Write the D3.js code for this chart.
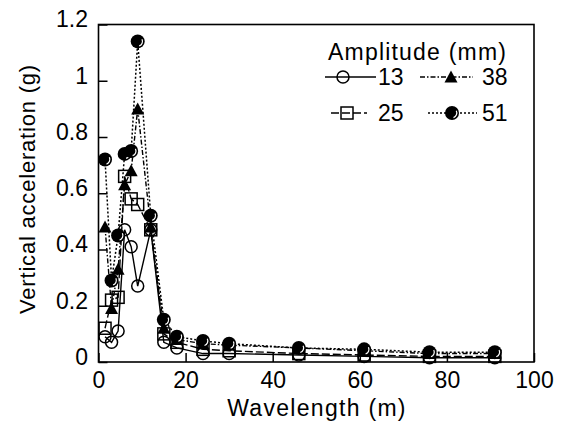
<!DOCTYPE html>
<html>
<head>
<meta charset="utf-8">
<script src="https://cdn.jsdelivr.net/npm/d3@7"></script>
<style>
body { margin: 0; background: #fff; }
text { font-family: "Liberation Sans", Arial, sans-serif; fill: #000; }
</style>
</head>
<body>
<script>
// wavelengths (m) and peak vertical acceleration (g) per amplitude
var wavelength = [1.5, 3, 4.5, 6, 7.5, 9, 12, 15, 18, 24, 30, 46, 61, 76, 91];
var amp13 = [0.09, 0.07, 0.11, 0.47, 0.41, 0.27, 0.47, 0.07, 0.05, 0.03, 0.03, 0.025, 0.02, 0.015, 0.015];
var amp25 = [0.12, 0.22, 0.23, 0.66, 0.58, 0.56, 0.47, 0.10, 0.07, 0.045, 0.04, 0.03, 0.025, 0.02, 0.02];
var amp38 = [0.48, 0.19, 0.33, 0.63, 0.68, 0.90, 0.48, 0.12, 0.08, 0.065, 0.06, 0.05, 0.04, 0.03, 0.03];
var amp51 = [0.72, 0.29, 0.45, 0.74, 0.75, 1.14, 0.52, 0.15, 0.09, 0.075, 0.065, 0.05, 0.045, 0.035, 0.035];
var seriesNames = ["13", "25", "38", "51"];
var xTicks = [0, 20, 40, 60, 80, 100];
var yTicks = [0, 0.2, 0.4, 0.6, 0.8, 1, 1.2];

var width = 561, height = 423;
var plotLeft = 98.5, plotRight = 534, plotTop = 24.5, plotBottom = 362;

var svg = d3.select("body").append("svg")
    .attr("width", width)
    .attr("height", height);

var x = d3.scaleLinear().domain([0, 100]).range([plotLeft, plotRight]);
var y = d3.scaleLinear().domain([0, 1.2]).range([plotBottom, plotTop]);

// axes, ticks point inward
var xAxis = svg.append("g")
    .attr("transform", "translate(0," + plotBottom + ")")
    .call(d3.axisBottom(x).tickValues(xTicks).tickSize(-9).tickSizeOuter(0).tickPadding(10));
xAxis.select(".domain").remove();
xAxis.selectAll("line").attr("stroke", "#000").attr("stroke-width", 1.5);
xAxis.selectAll("text").attr("font-size", 23).attr("fill", "#000");

var yAxis = svg.append("g")
    .attr("transform", "translate(" + plotLeft + ",0)")
    .call(d3.axisLeft(y).tickValues(yTicks).tickSize(-9).tickSizeOuter(0).tickPadding(10.5)
        .tickFormat(function(d) { return String(+d.toFixed(1)); }));
yAxis.select(".domain").remove();
yAxis.selectAll("line").attr("stroke", "#000").attr("stroke-width", 1.5);
yAxis.selectAll("text").attr("font-size", 23).attr("fill", "#000").attr("dy", "0.1em");

// frame
svg.append("rect")
    .attr("x", plotLeft).attr("y", plotTop)
    .attr("width", plotRight - plotLeft).attr("height", plotBottom - plotTop)
    .attr("fill", "none").attr("stroke", "#000").attr("stroke-width", 1.6);

// axis titles
svg.append("text")
    .attr("x", 317).attr("y", 416)
    .attr("text-anchor", "middle")
    .attr("font-size", 23)
    .attr("letter-spacing", 1.3)
    .text("Wavelength (m)");
svg.append("text")
    .attr("transform", "translate(35,189) rotate(-90)")
    .attr("text-anchor", "middle")
    .attr("font-size", 22)
    .attr("letter-spacing", 0.8)
    .text("Vertical acceleration (g)");

var styles = {
    "13": { dash: null, width: 1.4, marker: "circleOpen" },
    "25": { dash: "8,3", width: 1.4, marker: "square" },
    "38": { dash: "5,2,1.5,2", width: 1.4, marker: "triangle" },
    "51": { dash: "2,2", width: 1.5, marker: "circleFilled" }
};
var allValues = { "13": amp13, "25": amp25, "38": amp38, "51": amp51 };

var line = d3.line()
    .x(function(d) { return x(d[0]); })
    .y(function(d) { return y(d[1]); });

function drawMarker(g, type, cx, cy) {
    if (type == "circleOpen") {
        g.append("circle").attr("cx", cx).attr("cy", cy).attr("r", 6)
            .attr("fill", "none").attr("stroke", "#000").attr("stroke-width", 1.5);
    } else if (type == "square") {
        g.append("rect").attr("x", cx - 6).attr("y", cy - 6).attr("width", 12).attr("height", 12)
            .attr("fill", "none").attr("stroke", "#000").attr("stroke-width", 1.5);
    } else if (type == "triangle") {
        g.append("path")
            .attr("d", "M" + cx + "," + (cy - 6.5) + "L" + (cx + 6.5) + "," + (cy + 5.5) + "L" + (cx - 6.5) + "," + (cy + 5.5) + "Z")
            .attr("fill", "#000");
    } else {
        g.append("circle").attr("cx", cx).attr("cy", cy).attr("r", 7).attr("fill", "#000");
        // little highlight crescent
        g.append("path")
            .attr("transform", "translate(" + cx + "," + cy + ")")
            .attr("d", d3.arc().innerRadius(4.2).outerRadius(5.4).startAngle(Math.PI * 0.35).endAngle(Math.PI * 0.9)())
            .attr("fill", "#fff");
    }
}

var plot = svg.append("g");
seriesNames.forEach(function(name) {
    var pts = wavelength.map(function(w, i) { return [w, allValues[name][i]]; });
    var st = styles[name];
    plot.append("path")
        .datum(pts)
        .attr("d", line)
        .attr("fill", "none")
        .attr("stroke", "#000")
        .attr("stroke-width", st.width)
        .attr("stroke-dasharray", st.dash);
});
seriesNames.forEach(function(name) {
    var g = plot.append("g");
    wavelength.forEach(function(w, i) {
        drawMarker(g, styles[name].marker, x(w), y(allValues[name][i]));
    });
});

// legend
var legend = svg.append("g");
legend.append("text")
    .attr("x", 328).attr("y", 60)
    .attr("font-size", 23)
    .attr("letter-spacing", 1.2)
    .text("Amplitude (mm)");

var legendItems = [
    { name: "13", x1: 325, x2: 376, mx: 343, tx: 378, y: 77 },
    { name: "38", x1: 420, x2: 473, mx: 451, tx: 482, y: 77 },
    { name: "25", x1: 331, x2: 367, mx: 347, tx: 378, y: 113 },
    { name: "51", x1: 428, x2: 477, mx: 452, tx: 482, y: 113 }
];
legendItems.forEach(function(it) {
    var st = styles[it.name];
    legend.append("line")
        .attr("x1", it.x1).attr("x2", it.x2)
        .attr("y1", it.y).attr("y2", it.y)
        .attr("stroke", "#000")
        .attr("stroke-width", st.width)
        .attr("stroke-dasharray", st.dash);
    drawMarker(legend, st.marker, it.mx, it.y);
    legend.append("text")
        .attr("x", it.tx).attr("y", it.y + 8)
        .attr("font-size", 23)
        .text(it.name);
});
</script>
</body>
</html>
